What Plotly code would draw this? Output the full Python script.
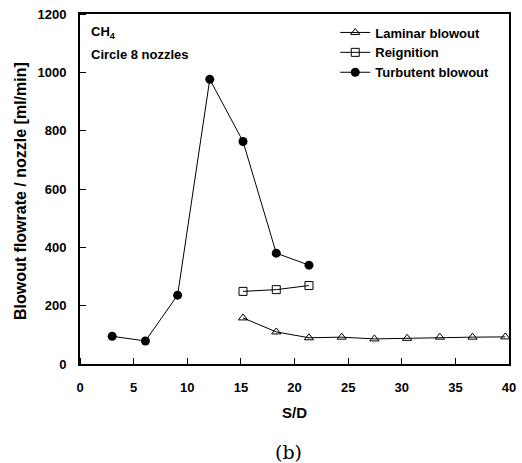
import plotly.graph_objects as go

sd_lam = [15.2, 18.3, 21.35, 24.4, 27.45, 30.5, 33.55, 36.6, 39.65]
lam = [158, 110, 90, 92, 86, 88, 92, 92, 93]
sd_reig = [15.2, 18.3, 21.35]
reig = [249, 255, 269]
sd_turb = [3.0, 6.1, 9.1, 12.1, 15.2, 18.3, 21.35]
turb = [95, 79, 236, 976, 763, 380, 339]

xticks = [0, 5, 10, 15, 20, 25, 30, 35, 40]
yticks = [0, 200, 400, 600, 800, 1000, 1200]

fnt = "Liberation Sans, Arial, sans-serif"

L, R, T, B = 80, 6, 14, 99
W, H = 522, 463

fig = go.Figure()
fig.add_trace(go.Scatter(x=sd_lam, y=lam, mode="lines+markers", name="<b>Laminar blowout</b>",
                         line=dict(color="black", width=1),
                         marker=dict(symbol="triangle-up-open", size=8, color="black", line=dict(width=1))))
fig.add_trace(go.Scatter(x=sd_reig, y=reig, mode="lines+markers", name="<b>Reignition</b>",
                         line=dict(color="black", width=1),
                         marker=dict(symbol="square-open", size=8, color="black", line=dict(width=1))))
fig.add_trace(go.Scatter(x=sd_turb, y=turb, mode="lines+markers", name="<b>Turbutent blowout</b>",
                         line=dict(color="black", width=1),
                         marker=dict(symbol="circle", size=9, color="black")))

fig.update_layout(
    width=W, height=H,
    margin=dict(l=L, r=R, t=T, b=B),
    paper_bgcolor="white", plot_bgcolor="white",
    font=dict(family=fnt, color="black", size=11),
    showlegend=True,
    legend=dict(x=0.595, y=0.99, xanchor="left", yanchor="top", bgcolor="rgba(0,0,0,0)",
                font=dict(size=13, family=fnt), tracegroupgap=0, itemwidth=30),
    xaxis=dict(range=[0, 40], tickvals=xticks, ticktext=[f"<b>{v}</b>" for v in xticks],
               ticks="outside", ticklen=10, tickwidth=1, tickcolor="rgba(0,0,0,0)",
               minor=dict(tickvals=xticks, ticks="inside", ticklen=6, tickwidth=1, tickcolor="black"),
               tickfont=dict(size=13),
               showline=True, linecolor="black", linewidth=2, mirror=True,
               showgrid=False, zeroline=False),
    yaxis=dict(range=[0, 1200], tickvals=yticks, ticktext=[f"<b>{v}</b>" for v in yticks],
               ticks="outside", ticklen=9, tickwidth=1, tickcolor="rgba(0,0,0,0)",
               minor=dict(tickvals=yticks, ticks="inside", ticklen=6, tickwidth=1, tickcolor="black"),
               tickfont=dict(size=13),
               showline=True, linecolor="black", linewidth=2, mirror=True,
               showgrid=False, zeroline=False),
)

def px(xp):
    return (xp - L) / (W - L - R)

def py(yp):
    return (H - B - yp) / (H - T - B)

fig.add_annotation(x=px(298), y=py(412), xref="paper", yref="paper", xanchor="center", yanchor="middle",
                   text="<b>S/D</b>", showarrow=False, font=dict(size=15, family=fnt))
fig.add_annotation(x=px(19), y=py(191), xref="paper", yref="paper", xanchor="center", yanchor="middle",
                   text="<b>Blowout flowrate / nozzle [ml/min]</b>",
                   showarrow=False, textangle=-90, font=dict(size=16, family=fnt))
fig.add_annotation(x=px(89), y=py(33), xref="paper", yref="paper", xanchor="left", yanchor="middle",
                   text="<b>CH<sub>4</sub></b>", showarrow=False, font=dict(size=13, family=fnt))
fig.add_annotation(x=px(89), y=py(55), xref="paper", yref="paper", xanchor="left", yanchor="middle",
                   text="<b>Circle 8 nozzles</b>", showarrow=False, font=dict(size=13, family=fnt))
fig.add_annotation(x=px(292), y=py(452), xref="paper", yref="paper", xanchor="center", yanchor="middle",
                   text="(b)", showarrow=False, font=dict(size=19, family="DejaVu Serif, serif"))

fig.write_html("out.html")
